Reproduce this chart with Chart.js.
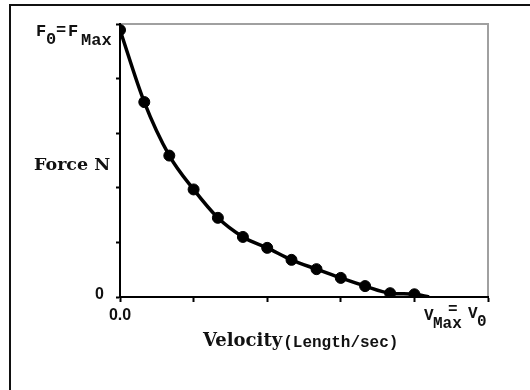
<!DOCTYPE html>
<html>
<head>
<meta charset="utf-8">
<script src="https://cdn.jsdelivr.net/npm/chart.js@4"></script>
<style>
  html, body { margin: 0; padding: 0; background: #fff; }
  #wrap { width: 530px; height: 390px; }
</style>
</head>
<body>
<div id="wrap"><canvas id="fvChart" width="530" height="390"></canvas></div>
<script>
// Datos (unidades relativas: 5 divisiones por eje)
const velocity = [0, 0.33, 0.67, 1, 1.33, 1.67, 2, 2.33, 2.67, 3, 3.33, 3.67, 4];
const force = [4.89, 3.57, 2.59, 1.97, 1.45, 1.10, 0.90, 0.68, 0.51, 0.35, 0.20, 0.07, 0.05];
// La curva termina al cruzar el eje x
const curveEndV = [4.2];
const curveEndF = [0];

const yTickLabels = ["0", "F0=FMax"];
const xTickLabels = ["0.0", "VMax= V0"];
const yTitle = "Force N";
const xTitle = ["Velocity", "(Length/sec)"];

const points = velocity.map((v, i) => ({ x: v, y: force[i] }));
const curve = points.concat(curveEndV.map((v, i) => ({ x: v, y: curveEndF[i] })));

// Textos, marco y ejes dibujados a mano
const labelsPlugin = {
    id: "labelsPlugin",
    beforeDraw(chart) {
        const ctx = chart.ctx;
        const area = chart.chartArea;
        ctx.save();
        ctx.fillStyle = "#fff";
        ctx.fillRect(0, 0, chart.width, chart.height);
        // borde exterior (solo arriba e izquierda visibles)
        ctx.strokeStyle = "#111";
        ctx.lineWidth = 2;
        ctx.beginPath();
        ctx.moveTo(10, 390);
        ctx.lineTo(10, 5);
        ctx.lineTo(530, 5);
        ctx.stroke();
        // marco gris del área del gráfico
        ctx.strokeStyle = "#a0a0a0";
        ctx.lineWidth = 2;
        ctx.beginPath();
        ctx.moveTo(area.left, area.top);
        ctx.lineTo(area.right, area.top);
        ctx.lineTo(area.right, area.bottom);
        ctx.stroke();
        ctx.restore();
    },
    afterDraw(chart) {
        const ctx = chart.ctx;
        const area = chart.chartArea;
        const xs = chart.scales.x;
        const ys = chart.scales.y;
        ctx.save();
        ctx.fillStyle = "#111";

        // "0" del eje y y "0.0" del eje x
        ctx.font = "bold 16px 'Liberation Sans'";
        ctx.textAlign = "right";
        ctx.textBaseline = "middle";
        ctx.fillText(yTickLabels[0], area.left - 16, ys.getPixelForValue(0) - 2);
        ctx.textAlign = "center";
        ctx.fillText(xTickLabels[0], xs.getPixelForValue(0), area.bottom + 19);

        // F0 = FMax
        ctx.textAlign = "left";
        ctx.textBaseline = "alphabetic";
        ctx.font = "bold 17px 'Liberation Mono'";
        let x = 36, base = ys.getPixelForValue(5) + 12;
        ctx.fillText("F", x, base);
        ctx.fillText("0", x + 10, base + 8);
        ctx.fillText("=", x + 20, base - 1);
        ctx.fillText("F", x + 32, base);
        ctx.fillText("Max", x + 45, base + 9);

        // VMax = V0
        ctx.font = "bold 16px 'Liberation Mono'";
        x = 424; base = area.bottom + 23;
        ctx.fillText("V", x, base);
        ctx.fillText("Max", x + 9, base + 8);
        ctx.fillText("=", x + 24, base - 6);
        ctx.fillText("V", x + 44, base - 2);
        ctx.fillText("0", x + 53, base + 6);

        // título del eje y
        ctx.font = "bold 17.5px 'DejaVu Serif'";
        ctx.textBaseline = "middle";
        ctx.fillText(yTitle, 34, 165);

        // título del eje x
        ctx.font = "bold 18px 'DejaVu Serif'";
        ctx.fillText(xTitle[0], 203, 341);
        const w = ctx.measureText(xTitle[0]).width;
        ctx.font = "bold 16px 'Liberation Mono'";
        ctx.fillText(xTitle[1], 203 + w + 1, 343);
        ctx.restore();
    }
};

new Chart(document.getElementById("fvChart"), {
    type: "scatter",
    data: {
        datasets: [
            {
                label: "curva",
                data: curve,
                showLine: true,
                borderColor: "#000",
                borderWidth: 3.5,
                pointRadius: 0,
                cubicInterpolationMode: "monotone",
                order: 2
            },
            {
                label: "puntos",
                data: points,
                showLine: false,
                backgroundColor: "#000",
                borderColor: "#000",
                pointRadius: 5.5,
                order: 1
            }
        ]
    },
    options: {
        responsive: false,
        animation: false,
        events: [],
        layout: { padding: { left: 10, top: 24, right: 42, bottom: 0 } },
        plugins: {
            legend: { display: false },
            tooltip: { enabled: false }
        },
        scales: {
            x: {
                type: "linear",
                min: 0,
                max: 5,
                ticks: { stepSize: 1, display: false },
                grid: { drawOnChartArea: false, tickLength: 5, color: "#000", tickWidth: 2 },
                border: { color: "#000", width: 2 },
                afterFit(scale) { scale.height = 93; }
            },
            y: {
                type: "linear",
                min: 0,
                max: 5,
                ticks: { stepSize: 1, display: false },
                grid: { drawOnChartArea: false, tickLength: 4, color: "#000", tickWidth: 2 },
                border: { color: "#000", width: 2 },
                afterFit(scale) { scale.width = 110; }
            }
        }
    },
    plugins: [labelsPlugin]
});
</script>
</body>
</html>
